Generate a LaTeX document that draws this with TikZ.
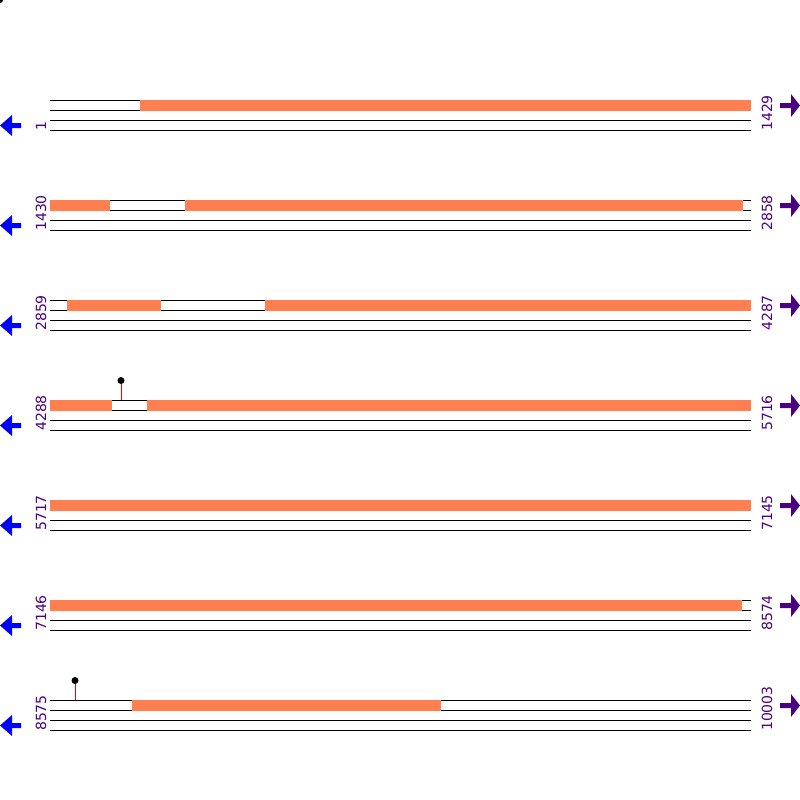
\documentclass[tikz,border=0pt]{standalone}
\usepackage{fontspec}
\setmainfont{DejaVu Sans}
\begin{document}
\begin{tikzpicture}[x=1pt,y=-1pt,
  seqline/.style={black,line width=1pt},
  feat/.style={fill={rgb,255:red,255;green,127;blue,80},draw=none},
  poslabel/.style={text={rgb,255:red,75;green,0;blue,130},rotate=90,anchor=base west,inner sep=0pt,font=\fontsize{14}{14}\selectfont},
  leftarrow/.style={fill={rgb,255:red,0;green,0;blue,255},draw=none},
  rightarrow/.style={fill={rgb,255:red,75;green,0;blue,130},draw=none},
  stem/.style={red,line width=1pt},
  head/.style={fill=black,draw=none}]
\useasboundingbox (0,0) rectangle (800,800);
\fill[white] (0,0) rectangle (800,800);
% tiny corner mark
\fill[black] (0,0) circle (3);
% rows: index / start label / end label
\foreach \r/\a/\b in {0/1/1429,1/1430/2858,2/2859/4287,3/4288/5716,4/5717/7145,5/7146/8574,6/8575/10003}{
  \pgfmathsetmacro{\yy}{100+100*\r}
  \foreach \d in {0,10,20,30}{
    \draw[seqline] (50,\yy+\d) -- (751,\yy+\d);
  }
  \node[poslabel] (ls\r) at (46,\yy+31) {\a};
  \node[poslabel] (le\r) at (772,\yy+31) {\b};
  % left arrow (blue)
  \path[leftarrow] (21,\yy+23) -- (12,\yy+23) -- (12,\yy+15) -- (0,\yy+25.5) -- (12,\yy+36) -- (12,\yy+28) -- (21,\yy+28) -- cycle;
  % right arrow (purple)
  \path[rightarrow] (780,\yy+3) -- (791,\yy+3) -- (791,\yy-6) -- (800,\yy+5.5) -- (791,\yy+17) -- (791,\yy+8) -- (780,\yy+8) -- cycle;
}
% features (orange)
\foreach \y/\s/\e in {100/140/751, 200/50/110, 200/185/743, 300/67/161, 300/265/751,
                      400/50/112, 400/147/751, 500/50/751, 600/50/742, 700/132/441}{
  \fill[feat] (\s,\y-0.5) rectangle (\e,\y+10.5);
}
% lollipop markers
\draw[stem] (121,383) -- (121,400);
\fill[head] (121,380.5) circle (3.5);
\draw[stem] (75,683) -- (75,700);
\fill[head] (75,680.5) circle (3.5);
\end{tikzpicture}
\end{document}
